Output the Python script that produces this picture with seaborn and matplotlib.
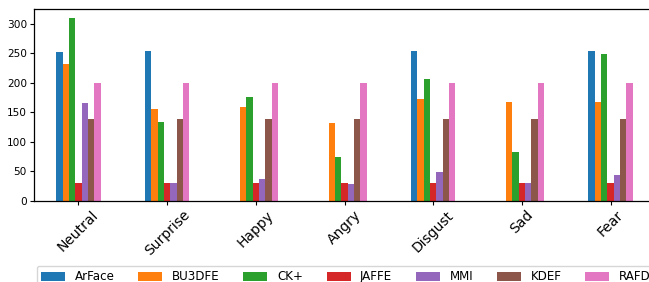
import matplotlib
matplotlib.use("Agg")
import matplotlib.pyplot as plt
from matplotlib.patches import Patch
import seaborn as sns
import pandas as pd

emotions = ["Neutral", "Surprise", "Happy", "Angry", "Disgust", "Sad", "Fear"]
datasets = ["ArFace", "BU3DFE", "CK+", "JAFFE", "MMI", "KDEF", "RAFD"]

arface = [252, 254, 0, 0, 254, 0, 254]
bu3dfe = [232, 156, 159, 132, 173, 168, 168]
ckplus = [309, 134, 176, 75, 207, 83, 249]
jaffe = [30, 30, 30, 31, 31, 31, 30]
mmi = [166, 31, 37, 29, 49, 31, 44]
kdef = [139, 139, 139, 139, 139, 139, 139]
rafd = [200, 200, 200, 200, 200, 200, 200]

series = [arface, bu3dfe, ckplus, jaffe, mmi, kdef, rafd]
rows = []
for name, vals in zip(datasets, series):
    for emo, v in zip(emotions, vals):
        rows.append({"emotion": emo, "dataset": name, "count": v})
df = pd.DataFrame(rows)

colors = sns.color_palette("tab10", 7)

fig = plt.figure(figsize=(6.49, 2.82), dpi=100)
W, H = 649, 282
ax = fig.add_axes([34 / W, (H - 201) / H, 621 / W, 192 / H])

sns.barplot(data=df, x="emotion", y="count", hue="dataset",
            order=emotions, hue_order=datasets, palette=colors,
            width=0.5, saturation=1, linewidth=0, gap=0,
            errorbar=None, legend=False, ax=ax)

ax.set_xlim(-0.5, 6.5)
ax.set_ylim(0, 325)
ax.set_xlabel("")
ax.set_ylabel("")
ax.set_yticks([0, 50, 100, 150, 200, 250, 300])
ax.tick_params(axis="y", labelsize=7.6, length=3, width=0.8, pad=2)
ax.tick_params(axis="x", labelsize=10, length=3, width=0.8, pad=2)
for lab in ax.get_xticklabels():
    lab.set_rotation(45)
    lab.set_ha("center")
for sp in ax.spines.values():
    sp.set_linewidth(0.9)
ax.spines["right"].set_visible(False)

handles = [Patch(facecolor=c, label=n) for c, n in zip(colors, datasets)]
fig.legend(handles=handles, ncol=7, loc="upper left",
           bbox_to_anchor=(36.5 / W, 1 - 265.5 / H),
           bbox_transform=fig.transFigure, borderaxespad=0,
           fontsize=8.6, handlelength=2.0, handleheight=0.8,
           columnspacing=2.0, handletextpad=0.8, frameon=True)

fig.savefig("out.png", dpi=100)
